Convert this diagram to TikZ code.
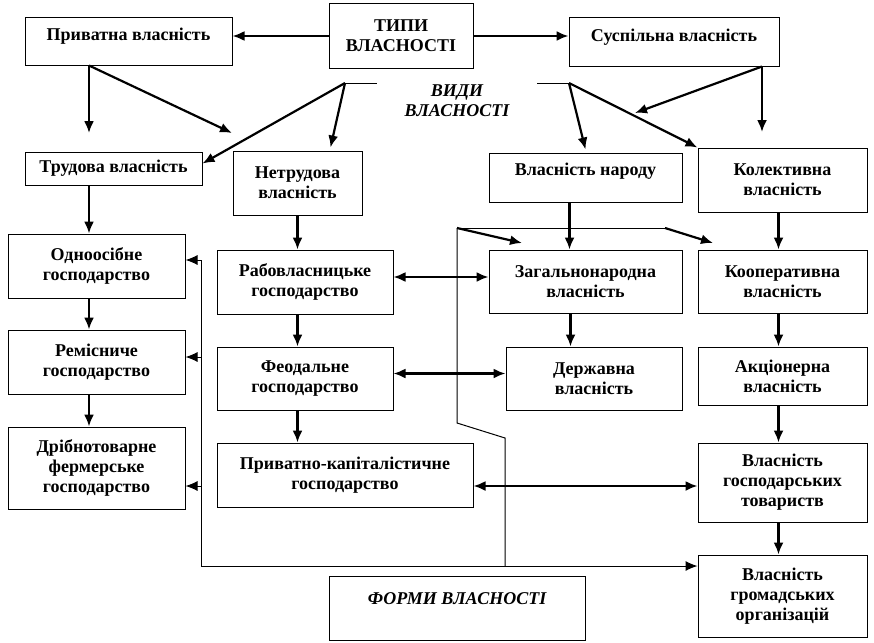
\documentclass[tikz,border=0pt]{standalone}
\usepackage{fontspec}
\setmainfont{Liberation Serif}
\usetikzlibrary{arrows.meta}

\begin{document}
\begin{tikzpicture}[x=1pt, y=-1pt,
  box/.style={draw, line width=1pt, align=center, inner sep=0pt,
    font=\fontsize{18}{20}\selectfont\bfseries},
  caption/.style={align=center, font=\fontsize{18}{20}\selectfont\bfseries\itshape},
  wire/.style={line width=1pt},
  link/.style={line width=2.2pt, -{Latex[length=12pt,width=10pt]}},
  thinlink/.style={line width=1pt, -{Latex[length=12pt,width=10pt]}},
  twoway/.style={line width=2.2pt, {Latex[length=12pt,width=10pt]}-{Latex[length=12pt,width=10pt]}}]
  \useasboundingbox (0,0) rectangle (874,642);

  \node[box, minimum width=144pt, minimum height=64pt] (typy) at (401,36) {ТИПИ\\ВЛАСНОСТІ};
  \node[box, minimum width=207pt, minimum height=47pt, text depth=14pt] (pryv) at (128.5,41.5) {Приватна власність};
  \node[box, minimum width=210pt, minimum height=48pt, text depth=14pt] (susp) at (674,42) {Суспільна власність};
  \node[box, minimum width=177pt, minimum height=33pt] (trud) at (113.5,168.5) {Трудова власність};
  \node[box, minimum width=129pt, minimum height=64pt] (netrud) at (297.5,183) {Нетрудова\\власність};
  \node[box, minimum width=193pt, minimum height=49pt, text depth=16pt] (narod) at (585.5,177.5) {Власність народу};
  \node[box, minimum width=169pt, minimum height=64pt] (kolekt) at (782.5,180) {Колективна\\власність};

  \node[box, minimum width=177pt, minimum height=64pt] (odno) at (96.5,266) {Одноосібне\\господарство};
  \node[box, minimum width=177pt, minimum height=64pt] (remis) at (96.5,362) {Ремісниче\\господарство};
  \node[box, minimum width=177pt, minimum height=82pt] (dribn) at (96.5,468) {Дрібнотоварне\\фермерське\\господарство};

  \node[box, minimum width=176pt, minimum height=64pt] (rabov) at (305,282) {Рабовласницьке\\господарство};
  \node[box, minimum width=176pt, minimum height=63pt] (feod) at (305,378.5) {Феодальне\\господарство};
  \node[box, minimum width=256pt, minimum height=64pt] (kapit) at (345,475) {Приватно-капіталістичне\\господарство};

  \node[box, minimum width=193pt, minimum height=63pt] (zagal) at (585.5,281.5) {Загальнонародна\\власність};
  \node[box, minimum width=176pt, minimum height=63pt] (derzh) at (594,378.5) {Державна\\власність};

  \node[box, minimum width=169pt, minimum height=63pt] (koop) at (782.5,281.5) {Кооперативна\\власність};
  \node[box, minimum width=169pt, minimum height=58pt] (akts) at (782.5,376) {Акціонерна\\власність};
  \node[box, minimum width=169pt, minimum height=79pt] (tovar) at (782.5,482.5) {Власність\\господарських\\товариств};
  \node[box, minimum width=169pt, minimum height=82pt] (hromad) at (782.5,596) {Власність\\громадських\\організацій};

  \node[box, minimum width=256pt, minimum height=64pt, text depth=18pt, font=\fontsize{18}{20}\selectfont\bfseries\itshape] (formy) at (457,608) {ФОРМИ ВЛАСНОСТІ};
  \node[caption] (vidy) at (457,101) {ВИДИ\\ВЛАСНОСТІ};

  \coordinate (pryvD) at (89,133);
  \coordinate (pryvR) at (232,133);
  \coordinate (vidyL) at (345,83);
  \coordinate (vidyLend) at (377,83);
  \coordinate (vidyR) at (569,83);
  \coordinate (vidyRend) at (537,83);
  \coordinate (suspD) at (762,132);
  \coordinate (suspL) at (635,113);
  \coordinate (brk) at (457,228);
  \coordinate (brkR) at (665,228);
  \coordinate (brkA) at (522,243);
  \coordinate (brkB) at (713,243);
  \coordinate (bend1) at (457,423);
  \coordinate (bend2) at (505,438);
  \coordinate (bus) at (201,566);

  \draw[link] (typy.west) -- (typy.west -| pryv.east);
  \draw[link] (typy.east) -- (typy.east -| susp.west);
  \draw[link] (pryv.south -| pryvD) -- (pryvD);
  \draw[link] (pryv.south -| pryvD) -- (pryvR);
  \draw[link] (susp.south -| suspD) -- (suspD);
  \draw[link] (susp.south -| suspD) -- (suspL);

  \draw[wire] (vidyL) -- (vidyLend);
  \draw[link] (vidyL) -- ([yshift=5pt]trud.east);
  \draw[link] (vidyL) -- ([xshift=33pt,yshift=3pt]netrud.north);
  \draw[wire] (vidyRend) -- (vidyR);
  \draw[link] (vidyR) -- ([yshift=3pt]narod.north);
  \draw[link] (vidyR) -- (kolekt.north west);

  \draw[link] ([xshift=-24.5pt]trud.south) -- ([xshift=-7.5pt]odno.north);
  \draw[link] ([xshift=-7.5pt]odno.south) -- ([xshift=-7.5pt]remis.north);
  \draw[link] ([xshift=-7.5pt]remis.south) -- ([xshift=-7.5pt]dribn.north);
  \draw[link] (netrud.south) -- ([xshift=-7.5pt]rabov.north);
  \draw[link] ([xshift=-7.5pt]rabov.south) -- ([xshift=-7.5pt]feod.north);
  \draw[link] ([xshift=-7.5pt]feod.south) -- ([xshift=-47.5pt]kapit.north);
  \draw[link] ([xshift=-16pt]narod.south) -- ([xshift=-16pt]zagal.north);
  \draw[link] ([xshift=-15pt]zagal.south) -- ([xshift=-23.5pt]derzh.north);
  \draw[link] ([xshift=-4pt]kolekt.south) -- ([xshift=-4pt]koop.north);
  \draw[link] ([xshift=-4pt]koop.south) -- ([xshift=-4pt]akts.north);
  \draw[link] ([xshift=-4pt]akts.south) -- ([xshift=-4pt]tovar.north);
  \draw[link] ([xshift=-4pt]tovar.south) -- ([xshift=-4pt]hromad.north);

  \draw[twoway] ([yshift=5pt]rabov.east) -- ([yshift=5pt]rabov.east -| zagal.west);
  \draw[twoway] ([yshift=5pt]feod.east) -- ([yshift=5pt]feod.east -| derzh.west);
  \draw[twoway] ([yshift=-11pt]kapit.east) -- ([yshift=-11pt]kapit.east -| tovar.west);

  \draw[wire] (brk) -- (brkR);
  \draw[link] (brk) -- (brkA);
  \draw[link] (brkR) -- (brkB);
  \draw[wire] (brk) -- (bend1) -- (bend2) -- (bend2 |- bus);
  \draw[wire] ([yshift=6pt]odno.east -| bus) -- (bus) -- (bus -| bend2);
  \draw[thinlink] (bus -| bend2) -- ([yshift=30pt]hromad.west);
  \draw[thinlink] ([yshift=6pt]odno.east -| bus) -- ([yshift=6pt]odno.east);
  \draw[thinlink] ([yshift=5pt]remis.east -| bus) -- ([yshift=5pt]remis.east);
  \draw[thinlink] ([yshift=-18pt]dribn.east -| bus) -- ([yshift=-18pt]dribn.east);
\end{tikzpicture}
\end{document}
